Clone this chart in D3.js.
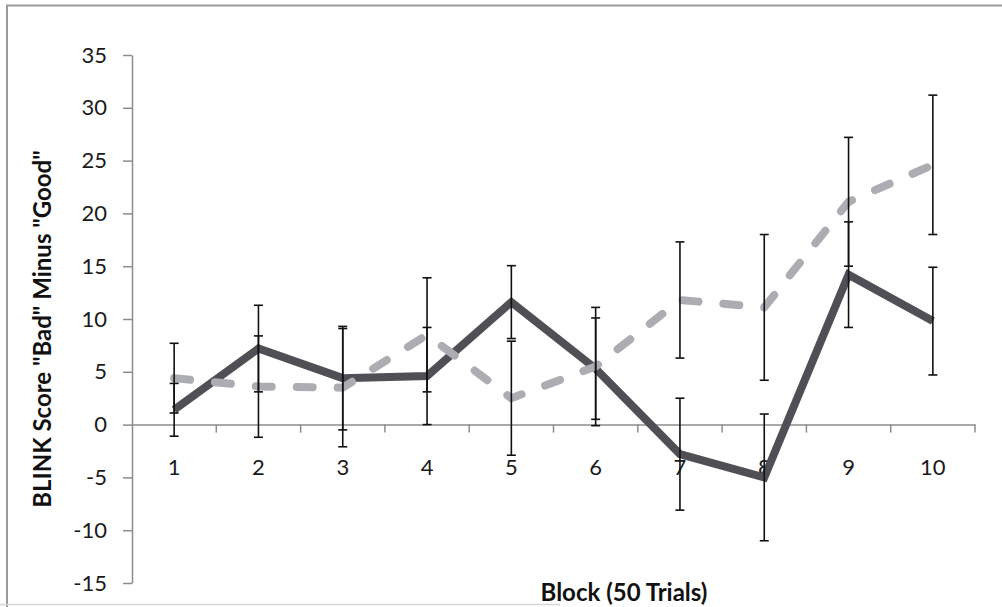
<!DOCTYPE html>
<html>
<head>
<meta charset="utf-8">
<script src="https://cdn.jsdelivr.net/npm/d3@7"></script>
<style>
  html, body { margin: 0; padding: 0; background: #fff; }
  svg { display: block; }
</style>
</head>
<body>
<svg id="chart" width="1002" height="607"></svg>
<script>
// Blocks of 50 trials each
const blocks = [1, 2, 3, 4, 5, 6, 7, 8, 9, 10];

// Solid series: mean score and error half-width per block
const solidMeans = [1.4, 7.2, 4.4, 4.6, 11.6, 5.3, -2.8, -5.0, 14.2, 9.8];
const solidErrors = [2.5, 4.1, 4.9, 4.6, 3.45, 4.8, 5.3, 6.0, 5.0, 5.1];

// Dashed series: mean score and error half-width per block
const dashedMeans = [4.4, 3.6, 3.5, 8.5, 2.5, 5.5, 11.8, 11.1, 21.1, 24.6];
const dashedErrors = [3.3, 4.8, 5.6, 5.4, 5.4, 5.6, 5.5, 6.9, 6.1, 6.6];

const yTicks = [-15, -10, -5, 0, 5, 10, 15, 20, 25, 30, 35];

const svg = d3.select("#chart");
const W = 1002, H = 607;

// outer frame
svg.append("line").attr("x1", 6).attr("x2", W).attr("y1", 5.5).attr("y2", 5.5)
  .attr("stroke", "#9a9a9a").attr("stroke-width", 2);
svg.append("line").attr("x1", 7).attr("x2", 7).attr("y1", 5).attr("y2", H)
  .attr("stroke", "#9a9a9a").attr("stroke-width", 2);
svg.append("line").attr("x1", 0).attr("x2", 560).attr("y1", 604.5).attr("y2", 604.5)
  .attr("stroke", "#d6d6d6").attr("stroke-width", 1.5);

const x = d3.scaleBand().domain(blocks).range([132, 975]);
const y = d3.scaleLinear().domain([-15, 35]).range([583, 55]);
const cx = d => x(d) + x.bandwidth() / 2;

const axisColor = "#8c8c8c";
const labelFont = "Lato, 'Open Sans', sans-serif";

// y axis (plain hyphen for negatives)
const yAxis = svg.append("g")
  .attr("transform", "translate(132,0)")
  .call(d3.axisLeft(y).tickValues(yTicks).tickFormat(d => String(d))
    .tickSize(9).tickSizeOuter(0).tickPadding(16));
yAxis.select(".domain").attr("stroke", axisColor).attr("stroke-width", 1.5);
yAxis.selectAll(".tick line").attr("stroke", axisColor).attr("stroke-width", 1.5);
yAxis.selectAll(".tick text")
  .attr("font-family", labelFont).attr("font-size", 22).attr("fill", "#1a1a1a");

// x axis along zero
const y0 = y(0);
const xAxis = svg.append("g")
  .attr("transform", `translate(0,${y0})`)
  .call(d3.axisBottom(x).tickSize(0).tickSizeOuter(0).tickPadding(35));
xAxis.select(".domain").attr("stroke", axisColor).attr("stroke-width", 1.5);
xAxis.selectAll(".tick text")
  .attr("font-family", labelFont).attr("font-size", 22).attr("fill", "#1a1a1a");

// tick marks between blocks
svg.append("g").selectAll("line")
  .data(blocks)
  .join("line")
  .attr("x1", d => x(d) + x.bandwidth())
  .attr("x2", d => x(d) + x.bandwidth())
  .attr("y1", y0).attr("y2", y0 + 8)
  .attr("stroke", axisColor).attr("stroke-width", 1.5);

// series lines
const line = d3.line().x((d, i) => cx(blocks[i])).y(d => y(d));

svg.append("path")
  .datum(solidMeans)
  .attr("d", line)
  .attr("fill", "none")
  .attr("stroke", "#4f4f55")
  .attr("stroke-width", 8)
  .attr("stroke-linejoin", "miter");

svg.append("path")
  .datum(dashedMeans)
  .attr("d", line)
  .attr("fill", "none")
  .attr("stroke", "#acacb3")
  .attr("stroke-width", 8)
  .attr("stroke-linecap", "round")
  .attr("stroke-dasharray", "16 25");

// error bars
function errorBars(means, errors) {
  const g = svg.append("g").attr("stroke", "#111").attr("stroke-width", 1.6);
  const rows = means.map((m, i) => ({ b: blocks[i], hi: m + errors[i], lo: m - errors[i] }));
  g.selectAll("line.v").data(rows).join("line").attr("class", "v")
    .attr("x1", d => cx(d.b)).attr("x2", d => cx(d.b))
    .attr("y1", d => y(d.hi)).attr("y2", d => y(d.lo));
  g.selectAll("line.hi").data(rows).join("line").attr("class", "hi")
    .attr("x1", d => cx(d.b) - 4.5).attr("x2", d => cx(d.b) + 4.5)
    .attr("y1", d => y(d.hi)).attr("y2", d => y(d.hi));
  g.selectAll("line.lo").data(rows).join("line").attr("class", "lo")
    .attr("x1", d => cx(d.b) - 4.5).attr("x2", d => cx(d.b) + 4.5)
    .attr("y1", d => y(d.lo)).attr("y2", d => y(d.lo));
}
errorBars(solidMeans, solidErrors);
errorBars(dashedMeans, dashedErrors);

// axis titles
svg.append("text")
  .attr("transform", "translate(51,329) rotate(-90)")
  .attr("text-anchor", "middle")
  .attr("font-family", labelFont)
  .attr("font-weight", "bold")
  .attr("font-size", 24)
  .attr("fill", "#111")
  .text('BLINK Score "Bad" Minus "Good"');

svg.append("text")
  .attr("x", 624).attr("y", 601)
  .attr("text-anchor", "middle")
  .attr("font-family", labelFont)
  .attr("font-weight", "bold")
  .attr("font-size", 24)
  .attr("fill", "#111")
  .text("Block (50 Trials)");
</script>
</body>
</html>
